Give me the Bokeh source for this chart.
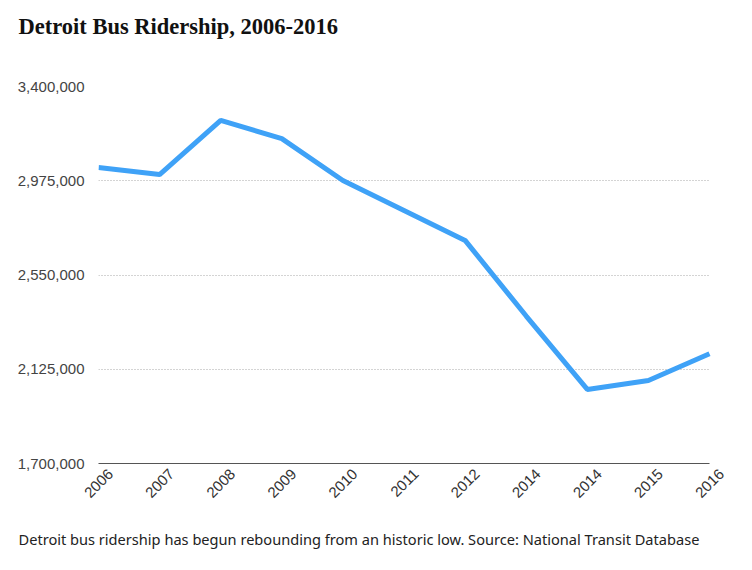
import math
from bokeh.plotting import figure
from bokeh.models import FixedTicker, Range1d, Title, NumeralTickFormatter, LinearAxis
from bokeh.embed import file_html
from bokeh.resources import INLINE

title_text = "Detroit Bus Ridership, 2006-2016"
caption_text = "Detroit bus ridership has begun rebounding from an historic low. Source: National Transit Database"
years = ["2006", "2007", "2008", "2009", "2010", "2011", "2012", "2014", "2014", "2015", "2016"]
riders = [3035000, 3003000, 3247000, 3165000, 2976000, 2841000, 2706000, 2365000, 2034000, 2074000, 2195000]
y_ticks = [1700000, 2125000, 2550000, 2975000, 3400000]

xs = list(range(len(years)))
n = len(years) - 1

plot_px = 611          # width covered by the data
label_px = 12          # rotated labels sit this far right of each point
extra = n * label_px / plot_px
frame_w = plot_px + label_px

p = figure(width=744, height=570, output_backend="svg", toolbar_location=None,
           x_range=Range1d(0, n + extra), y_range=Range1d(1700000, 3400000),
           min_border_left=98, min_border_right=744 - 98 - frame_w,
           min_border_top=86, min_border_bottom=107)
p.outline_line_color = None
p.background_fill_color = "white"
p.border_fill_color = "white"

p.title.text = title_text
p.title.text_font = "Liberation Serif"
p.title.text_font_size = "22.5px"
p.title.text_font_style = "bold"
p.title.text_color = "#111111"
p.title.align = "left"
p.title.offset = -80
p.title.standoff = 10

# primary x axis: only the base line, bounded to the data
base = p.xaxis[0]
base.ticker = FixedTicker(ticks=[])
base.bounds = (0, n)
base.axis_line_color = "#555555"
base.axis_line_width = 1.2
base.major_tick_line_color = None
base.minor_tick_line_color = None

# blank spacer between the frame and the title (white tick on white border)
gap = LinearAxis(ticker=FixedTicker(ticks=[0]))
gap.axis_line_color = None
gap.major_tick_line_color = "white"
gap.major_tick_in = 0
gap.major_tick_out = 43
gap.minor_tick_line_color = None
gap.minor_tick_out = 0
gap.major_label_overrides = {0: ""}
gap.major_label_standoff = 0
gap.major_label_text_font_size = "1px"
p.add_layout(gap, "above")

# label axis on a shifted range
p.extra_x_ranges = {"lbl": Range1d(-extra, n)}
xax = LinearAxis(x_range_name="lbl")
xax.ticker = FixedTicker(ticks=xs)
xax.major_label_overrides = {i: y for i, y in enumerate(years)}
xax.major_label_orientation = math.pi / 4
xax.axis_line_color = None
xax.major_tick_line_color = None
xax.minor_tick_line_color = None
xax.major_label_standoff = 2
xax.major_label_text_font = "Liberation Sans"
xax.major_label_text_font_size = "15px"
xax.major_label_text_color = "#333333"
p.add_layout(xax, "below")

cap = Title(text=caption_text, align="left", offset=-80, text_font="Noto Sans",
            text_font_size="14.6px", text_font_style="normal", text_color="#222222",
            standoff=43)
p.add_layout(cap, "below")

p.line(xs, riders, line_color="#3fa2f7", line_width=5)

p.yaxis.ticker = FixedTicker(ticks=y_ticks)
p.yaxis.formatter = NumeralTickFormatter(format="0,0")
p.yaxis.axis_line_color = None
p.yaxis.major_tick_line_color = None
p.yaxis.minor_tick_line_color = None
p.yaxis.major_label_standoff = 8
p.yaxis.major_label_text_font = "Liberation Sans"
p.yaxis.major_label_text_font_size = "15px"
p.yaxis.major_label_text_color = "#444444"

p.xgrid.grid_line_color = None
p.ygrid.grid_line_color = "#a8a8a8"
p.ygrid.grid_line_dash = "1 2"
p.ygrid.grid_line_width = 1
p.ygrid.bounds = (1700000, 3400000)
try:
    p.ygrid[0].cross_bounds = (0, n)
except Exception:
    pass

open("out.html", "w").write(file_html(p, INLINE))
